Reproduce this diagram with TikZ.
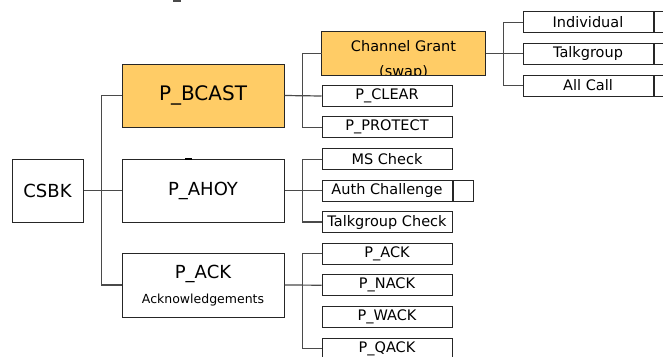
\documentclass[tikz,border=0pt]{standalone}
\usepackage{fontspec}
\setmainfont{DejaVu Sans}
\definecolor{boxorange}{HTML}{FFCC66}
\definecolor{boxline}{HTML}{262626}
\definecolor{conn}{HTML}{4A4A4A}
\begin{document}
\begin{tikzpicture}[x=1pt,y=-1pt,
  box/.style={draw=boxline, line width=1pt, fill=white, inner sep=0pt, minimum height=21pt, minimum width=130pt, font=\fontsize{14.5}{16}\selectfont},
  bigbox/.style={box, minimum width=162pt, minimum height=63pt, font=\fontsize{18}{20}\selectfont},
  hot/.style={fill=boxorange},
  wire/.style={draw=conn, line width=1.2pt}]
\useasboundingbox (0,0) rectangle (663,356);
\clip (0,0) rectangle (663,356);
% level 0 and 1
\node[bigbox, minimum width=71pt] (csbk) at (47.5,190.5) {CSBK};
\node[bigbox, hot, font=\fontsize{20}{22}\selectfont] (bcast) at (203,95.5) {P\_BCAST};
\node[bigbox] (ahoy) at (203,190.5) {P\_AHOY};
\node[bigbox, minimum height=64pt] (ack) at (203,285) {};
\node[font=\fontsize{18}{20}\selectfont, inner sep=0pt] (acktitle) at (203,274) {P\_ACK};
\node[font=\fontsize{12.5}{14}\selectfont, inner sep=0pt] (acksub) at (203,300) {Acknowledgements};
% level 2
\node[box, hot, draw=none, minimum width=163pt, minimum height=43pt] (cg) at (403.5,53.5) {};
\begin{scope}
\clip (cg.south west) rectangle (cg.north east);
\node[font=\fontsize{14.5}{16}\selectfont, inner sep=0pt] (cgt) at (403.5,46.5) {Channel Grant};
\node[font=\fontsize{14.5}{16}\selectfont, inner sep=0pt] (cgs) at (403.5,72.5) {(swap)};
\end{scope}
\draw[boxline, line width=1pt] (cg.south west) rectangle (cg.north east);
\node[box] (clear) at (387,96) {P\_CLEAR};
\node[box] (protect) at (387,127.2) {P\_PROTECT};
\node[box] (mscheck) at (387,159.2) {MS Check};
\node[box] (auth) at (387,190.5) {Auth Challenge};
\node[box, minimum width=20pt, anchor=west] (authx) at (auth.east) {};
\node[box] (tgcheck) at (387,222) {Talkgroup Check};
\node[box] (ack2) at (387,253.8) {P\_ACK};
\node[box] (nack) at (387,285.2) {P\_NACK};
\node[box] (wack) at (387,316.5) {P\_WACK};
\node[box] (qack) at (387,348.5) {P\_QACK};
% level 3
\node[box] (indiv) at (588,22.2) {Individual};
\node[box, minimum width=50pt, anchor=west] (indivx) at (indiv.east) {};
\node[box] (tg) at (588,53.5) {Talkgroup};
\node[box, minimum width=50pt, anchor=west] (tgx) at (tg.east) {};
\node[box] (allcall) at (588,85.5) {All Call};
\node[box, minimum width=50pt, anchor=west] (allcallx) at (allcall.east) {};
% connectors
\draw[wire] (csbk.east) -- (ahoy.west);
\draw[wire] (bcast.west) -- ++(-20,0) |- (ack.west);
\draw[wire] (bcast.east) -- (clear.west);
\draw[wire] (cg.west) -- ++(-19,0) |- (protect.west);
\draw[wire] (ahoy.east) -- (auth.west);
\draw[wire] (mscheck.west) -- ++(-19,0) |- (tgcheck.west);
\draw[wire] (ack.east) -- (nack.west);
\draw[wire] (ack2.west) -- ++(-19,0) |- (qack.west);
\draw[wire] (cg.east) -- (tg.west);
\draw[wire] (indiv.west) -- ++(-19,0) |- (allcall.west);
% small marks
\draw[conn, line width=1.5pt] (173,1) -- (181,1);
\draw[black, line width=1.6pt] (185,159) -- (192,159);
\end{tikzpicture}
\end{document}
